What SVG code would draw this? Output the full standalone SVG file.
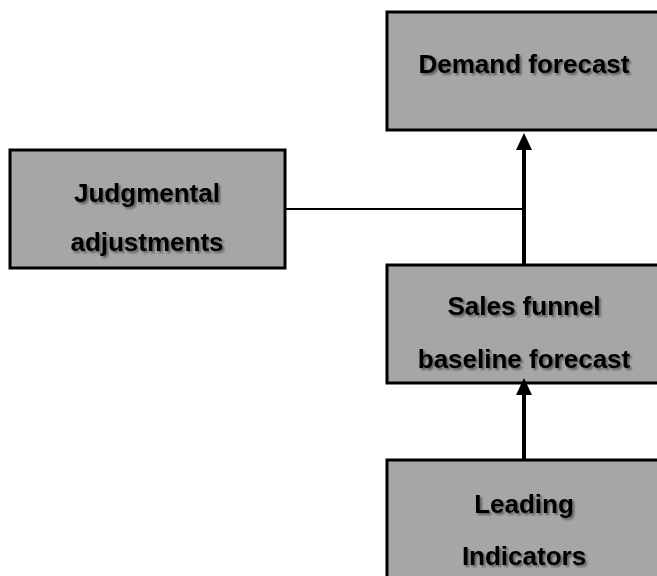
<svg xmlns="http://www.w3.org/2000/svg" width="657" height="576" viewBox="0 0 657 576">
  <style>
    .box { fill: #a6a6a6; stroke: #000; stroke-width: 3; }
    .label { font-family: "Liberation Sans", Arial, sans-serif; font-weight: bold; font-size: 26px; fill: #000; text-anchor: middle; filter: url(#shadow); }
    .link { stroke: #000; fill: none; }
  </style>
  <defs>
    <filter id="shadow" x="-10%" y="-30%" width="130%" height="170%">
      <feDropShadow dx="2" dy="2" stdDeviation="1.2" flood-color="#000" flood-opacity="0.45"/>
    </filter>
  </defs>

  <rect width="657" height="576" fill="#fff"/>

  <g id="demand-forecast">
    <rect class="box" x="387" y="12" width="275" height="118"/>
    <text class="label" x="524" y="73">Demand forecast</text>
  </g>

  <g id="judgmental-adjustments">
    <rect class="box" x="10" y="150" width="275" height="118"/>
    <text class="label" x="147" y="202">Judgmental</text>
    <text class="label" x="147" y="251">adjustments</text>
  </g>

  <g id="sales-funnel">
    <rect class="box" x="387" y="265" width="275" height="118"/>
    <text class="label" x="524" y="315">Sales funnel</text>
    <text class="label" x="524" y="368">baseline forecast</text>
  </g>

  <g id="leading-indicators">
    <rect class="box" x="387" y="460" width="275" height="130"/>
    <text class="label" x="524" y="513">Leading</text>
    <text class="label" x="524" y="565">Indicators</text>
  </g>

  <g id="connectors">
    <line class="link" x1="285" y1="209" x2="524" y2="209" stroke-width="2"/>
    <line class="link" x1="524" y1="265" x2="524" y2="148" stroke-width="4"/>
    <polygon points="524,133 516,150 532,150" fill="#000"/>
    <line class="link" x1="524" y1="460" x2="524" y2="391" stroke-width="4"/>
    <polygon points="524,378 516,395 532,395" fill="#000"/>
  </g>
</svg>
